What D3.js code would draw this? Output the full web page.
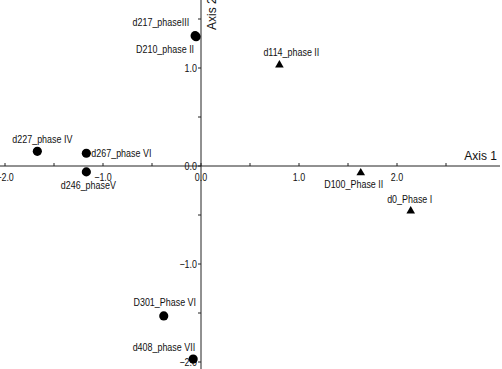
<!DOCTYPE html>
<html>
<head>
<meta charset="utf-8">
<script src="https://cdn.jsdelivr.net/npm/d3@7"></script>
<style>
  body { margin: 0; background: #fff; }
  svg { display: block; }
  .tick-label, .pt-label { font-family: "Liberation Sans", Arial, sans-serif; font-size: 10.5px; fill: #111; }
  .axis-title { font-family: "Liberation Sans", Arial, sans-serif; font-size: 12px; fill: #111; }
</style>
</head>
<body>
<div id="chart"></div>
<script>
// sample names, axis 1 / axis 2 scores, and marker shape
var names = ["d217_phaseIII", "D210_phase II", "d114_phase II", "d227_phase IV", "d267_phase VI",
             "d246_phaseV", "D100_Phase II", "d0_Phase I", "D301_Phase VI", "d408_phase VII"];
var axis1 = [-0.06, -0.05, 0.80, -1.67, -1.17, -1.17, 1.63, 2.14, -0.38, -0.08];
var axis2 = [1.33, 1.32, 1.03, 0.15, 0.13, -0.06, -0.07, -0.46, -1.53, -1.97];
var shapes = ["circle", "circle", "triangle", "circle", "circle", "circle", "triangle", "triangle", "circle", "circle"];

var xTicks = [-2, -1.5, -1, -0.5, 0, 0.5, 1, 1.5, 2, 2.5];
var xLabels = [-2, -1, 0, 1, 2];
var yTicks = [-2, -1.5, -1, -0.5, 0, 0.5, 1, 1.5];
var yLabels = [-2, -1, 0, 1];

// where each label sits relative to its marker: [anchor, dx, dy]
var labelPlace = {
  "d217_phaseIII": ["end", -6, -10],
  "D210_phase II": ["end", -2, 16],
  "d114_phase II": ["start", -16, -9],
  "d227_phase IV": ["start", -25, -8],
  "d267_phase VI": ["start", 5, 3.5],
  "d246_phaseV": ["middle", 2, 17],
  "D100_Phase II": ["middle", -7, 15],
  "d0_Phase I": ["middle", -1, -8],
  "D301_Phase VI": ["middle", 1, -10],
  "d408_phase VII": ["end", 2, -8]
};

var width = 502, height = 369;
var squeeze = 0.85; // the original lettering is narrower than Arial

var svg = d3.select("#chart").append("svg")
  .attr("width", width)
  .attr("height", height);

var x = d3.scaleLinear().domain([-2, 2]).range([5, 397]);
var y = d3.scaleLinear().domain([-2, 1]).range([362, 68]);
var fmt = d3.format(".1f");

/* axis lines */
svg.append("line")
  .attr("x1", 0).attr("x2", 500)
  .attr("y1", y(0)).attr("y2", y(0))
  .attr("stroke", "#222").attr("stroke-width", 1);
svg.append("line")
  .attr("x1", x(0)).attr("x2", x(0))
  .attr("y1", 0).attr("y2", height)
  .attr("stroke", "#222").attr("stroke-width", 1);

/* ticks */
svg.selectAll(".xt").data(xTicks).enter().append("line")
  .attr("class", "xt")
  .attr("x1", d => x(d)).attr("x2", d => x(d))
  .attr("y1", y(0) - 3).attr("y2", y(0))
  .attr("stroke", "#222");
svg.selectAll(".yt").data(yTicks).enter().append("line")
  .attr("class", "yt")
  .attr("x1", x(0) - 3).attr("x2", x(0))
  .attr("y1", d => y(d)).attr("y2", d => y(d))
  .attr("stroke", "#222");

svg.selectAll(".xl").data(xLabels).enter().append("text")
  .attr("class", "tick-label xl")
  .attr("x", d => x(d))
  .attr("y", y(0) + 15)
  .attr("text-anchor", "middle")
  .text(d => fmt(d));
svg.selectAll(".yl").data(yLabels).enter().append("text")
  .attr("class", "tick-label yl")
  .attr("x", x(0) - 4)
  .attr("y", d => y(d) + 4)
  .attr("text-anchor", "end")
  .text(d => fmt(d));

/* axis titles */
svg.append("text")
  .attr("class", "axis-title")
  .attr("x", 497).attr("y", y(0) - 6)
  .attr("text-anchor", "end")
  .text("Axis 1");
svg.append("text")
  .attr("class", "axis-title")
  .attr("transform", `translate(${x(0) + 15}, 30) rotate(-90)`)
  .attr("text-anchor", "start")
  .text("Axis 2");

/* points */
var pts = names.map((n, i) => ({name: n, a1: axis1[i], a2: axis2[i], shape: shapes[i]}));

var g = svg.append("g");
g.selectAll("path.pt").data(pts).enter().append("path")
  .attr("class", "pt")
  .attr("transform", d => `translate(${x(d.a1)}, ${y(d.a2)})`)
  .attr("d", d => d.shape == "circle"
      ? d3.symbol().type(d3.symbolCircle).size(66)()
      : d3.symbol().type(d3.symbolTriangle).size(32)())
  .attr("fill", "#000");

g.selectAll("text.pt-label").data(pts).enter().append("text")
  .attr("class", "pt-label")
  .attr("x", d => x(d.a1) + labelPlace[d.name][1])
  .attr("y", d => y(d.a2) + labelPlace[d.name][2])
  .attr("text-anchor", d => labelPlace[d.name][0])
  .text(d => d.name);

// condense the small lettering
svg.selectAll(".pt-label, .tick-label").each(function() {
  var w = this.getComputedTextLength();
  d3.select(this)
    .attr("textLength", w * squeeze)
    .attr("lengthAdjust", "spacingAndGlyphs");
});
</script>
</body>
</html>
